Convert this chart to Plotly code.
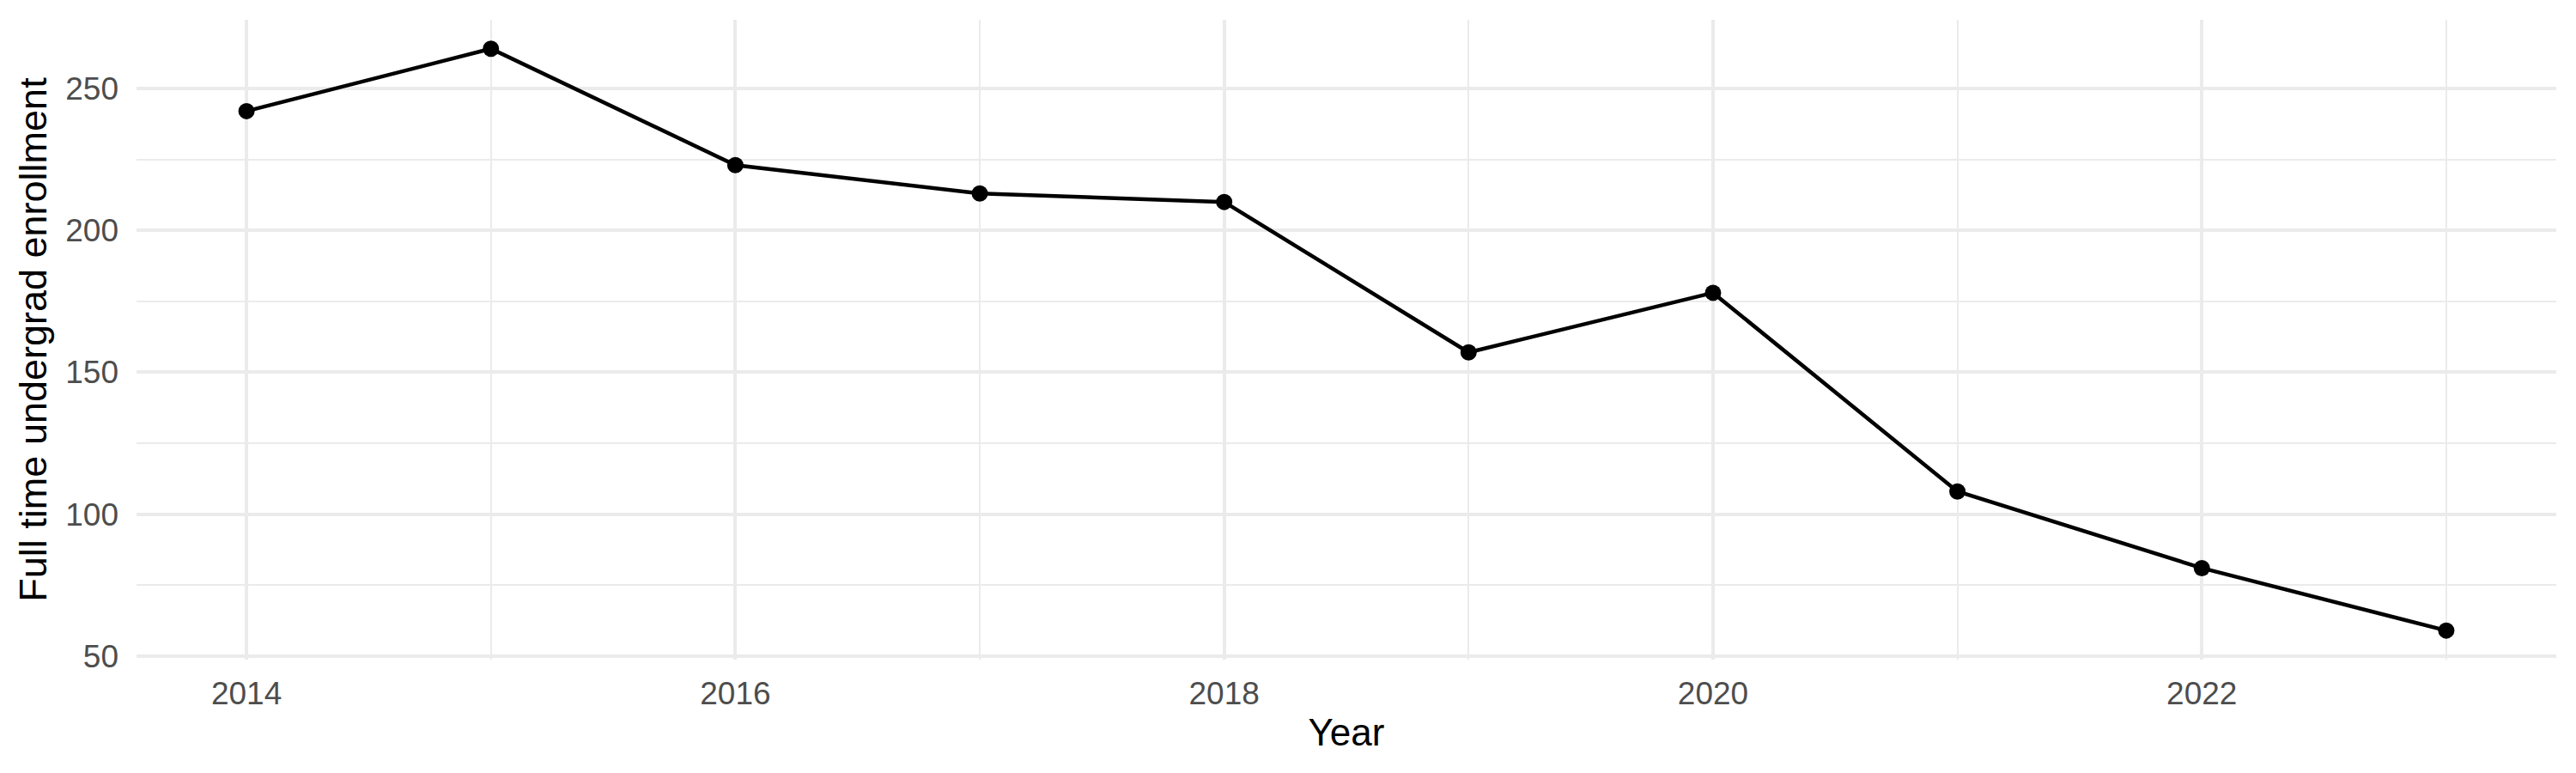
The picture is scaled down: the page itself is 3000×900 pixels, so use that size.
import plotly.graph_objects as go

years = [2014, 2015, 2016, 2017, 2018, 2019, 2020, 2021, 2022, 2023]
enrollment = [242, 264, 223, 213, 210, 157, 178, 108, 81, 59]

x_ticks = [2014, 2016, 2018, 2020, 2022]
y_ticks = [50, 100, 150, 200, 250]

fig = go.Figure()
fig.add_trace(go.Scatter(
    x=years, y=enrollment, mode="lines+markers",
    line=dict(color="black", width=4.5),
    marker=dict(color="black", size=19),
    showlegend=False,
))

grid = "#EBEBEB"
# page body adds ~8px offset, so margins are nudged to compensate
fig.update_layout(
    width=3000, height=900,
    margin=dict(l=151, r=31, t=15, b=140),
    paper_bgcolor="white", plot_bgcolor="white",
    font=dict(family="Liberation Sans, Arial, sans-serif", color="black"),
    xaxis=dict(
        range=[2013.55, 2023.45], tickvals=x_ticks,
        showgrid=True, gridcolor=grid, gridwidth=4, zeroline=False,
        showline=False, ticks="", ticklabelstandoff=14,
        tickfont=dict(size=37, color="#4D4D4D"),
        minor=dict(dtick=1, tick0=2014, showgrid=True, gridcolor=grid, gridwidth=2),
        title=dict(text="Year", font=dict(size=44), standoff=10),
    ),
    yaxis=dict(
        range=[48.75, 274.2], tickvals=y_ticks,
        showgrid=True, gridcolor=grid, gridwidth=4, zeroline=False,
        showline=False, ticks="", ticklabelstandoff=20,
        tickfont=dict(size=37, color="#4D4D4D"),
        minor=dict(dtick=25, tick0=50, showgrid=True, gridcolor=grid, gridwidth=2),
        title=dict(text="Full time undergrad enrollment", font=dict(size=45), standoff=7),
    ),
)

fig.write_html("out.html")
